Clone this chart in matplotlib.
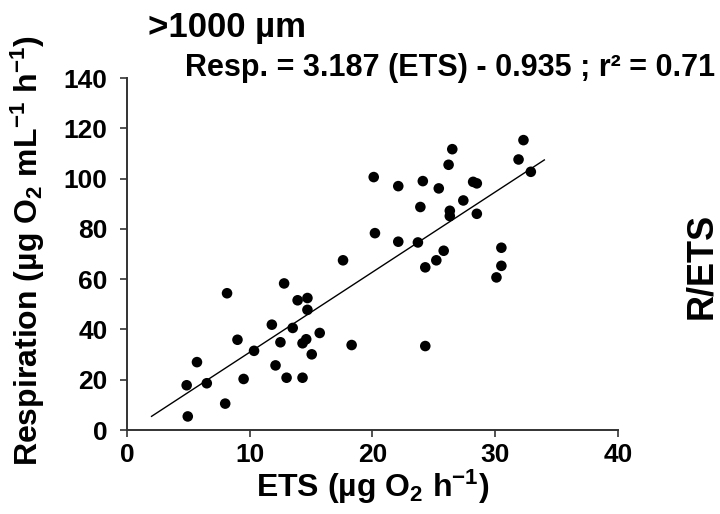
import matplotlib
matplotlib.use("Agg")
import matplotlib.pyplot as plt
import numpy as np

# data
ets = [20.1, 20.2, 17.6, 32.3, 26.5, 26.2, 31.9, 32.9, 22.1, 24.1,
       25.4, 28.2, 28.5, 27.4, 23.9, 26.3, 26.3, 28.5, 22.1, 23.7,
       25.8, 25.2, 30.5, 24.3, 30.5, 30.1, 24.3, 12.8, 8.15, 13.9,
       14.7, 14.7, 11.8, 13.5, 15.7, 9.0, 12.5, 14.3, 14.6, 18.3,
       10.35, 15.05, 5.7, 12.1, 9.5, 13.0, 14.3, 4.86, 6.5, 8.0, 4.95]
resp = [100.6, 78.3, 67.5, 115.3, 111.7, 105.5, 107.6, 102.7, 97.0, 99.0,
        96.1, 98.7, 98.1, 91.3, 88.7, 87.2, 85.1, 86.0, 74.9, 74.6,
        71.3, 67.5, 72.5, 64.7, 65.3, 60.7, 33.4, 58.3, 54.4, 51.6,
        52.5, 47.8, 41.9, 40.6, 38.6, 35.9, 34.9, 34.5, 36.1, 33.8,
        31.5, 30.1, 27.0, 25.7, 20.3, 20.8, 20.8, 17.8, 18.6, 10.5, 5.4]
slope = 3.187
intercept = -0.935
fit_range = [2.0, 34.0]
xticks = [0, 10, 20, 30, 40]
yticks = [0, 20, 40, 60, 80, 100, 120, 140]

plt.rcParams['font.family'] = ['Liberation Sans', 'DejaVu Sans']
plt.rcParams['font.weight'] = 'bold'
plt.rcParams['mathtext.fontset'] = 'custom'
plt.rcParams['mathtext.rm'] = 'Liberation Sans:bold'
plt.rcParams['mathtext.it'] = 'Liberation Sans:bold'
plt.rcParams['mathtext.bf'] = 'Liberation Sans:bold'
plt.rcParams['mathtext.default'] = 'rm'

fig = plt.figure(figsize=(7.2, 5.14), dpi=100)
ax = fig.add_axes([0.1764, 0.1634, 0.6819, 0.6848])

ax.scatter(ets, resp, s=58, c="black", edgecolors="none", clip_on=False, zorder=3)

fx = np.array(fit_range)
ax.plot(fx, slope * fx + intercept, color="black", lw=1.0)

ax.set_xlim(0, 40)
ax.set_ylim(0, 140)
ax.set_xticks(xticks)
ax.set_yticks(yticks)

for s in ["top", "right"]:
    ax.spines[s].set_visible(False)
for s in ["left", "bottom"]:
    ax.spines[s].set_color("#333333")
    ax.spines[s].set_linewidth(1.4)

ax.tick_params(direction="out", length=5, width=1.2, color="#333333", labelsize=19)
ax.tick_params(axis="x", pad=4)
ax.tick_params(axis="y", pad=9)
for lab in ax.get_xticklabels() + ax.get_yticklabels():
    lab.set_fontweight("bold")

fig.text(0.2056, 0.928, ">1000 µm", fontsize=25, fontweight="bold", va="baseline")
fig.text(0.257, 0.852, "Resp. = 3.187 (ETS) - 0.935 ; r² = 0.71",
         fontsize=22, fontweight="bold", va="baseline")

fig.text(0.518, 0.033, r"ETS (µg O$_2$ h$^{-1}$)", fontsize=23,
         fontweight="bold", ha="center", va="baseline")
fig.text(0.038, 0.512, r"Respiration (µg O$_2$ mL$^{-1}$ h$^{-1}$)", fontsize=23,
         fontweight="bold", rotation=90, ha="center", va="center")
fig.text(0.974, 0.482, "R/ETS", fontsize=26, fontweight="bold",
         rotation=90, ha="center", va="center")

fig.savefig("out.png", dpi=100)
